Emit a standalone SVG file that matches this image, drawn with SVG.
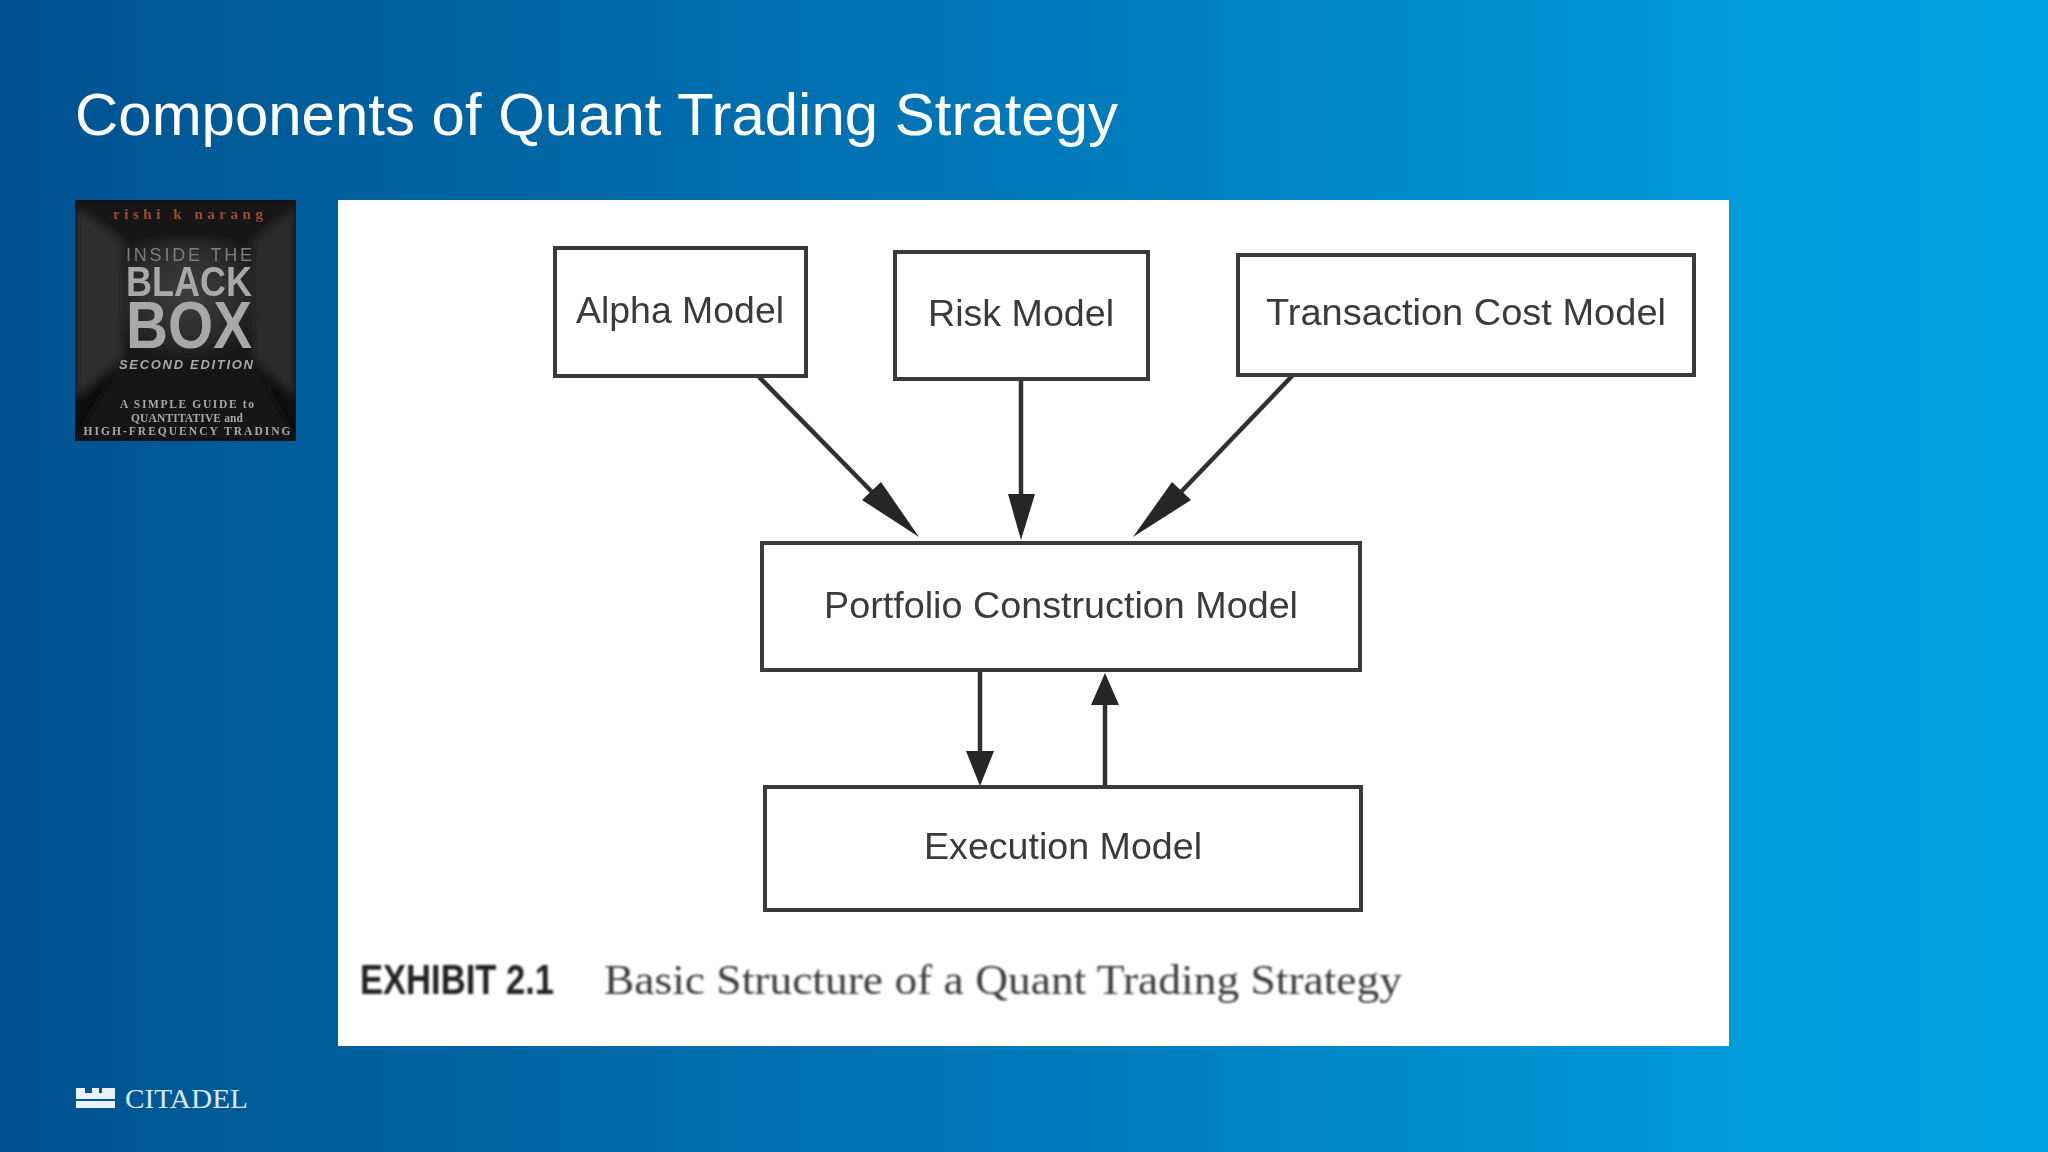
<svg xmlns="http://www.w3.org/2000/svg" width="2048" height="1152" viewBox="0 0 2048 1152">
<defs>
<linearGradient id="bg" x1="0" y1="0" x2="1" y2="0"><stop offset="0" stop-color="#00528f"/><stop offset="0.5" stop-color="#0078b9"/><stop offset="0.85" stop-color="#009bdb"/><stop offset="1" stop-color="#00a2e2"/></linearGradient>
<radialGradient id="wall" cx="0.5" cy="0.45" r="0.6"><stop offset="0" stop-color="#3e3e3e"/><stop offset="0.7" stop-color="#2a2a2a"/><stop offset="1" stop-color="#181818"/></radialGradient>
<clipPath id="bk"><rect x="75" y="200" width="221" height="241"/></clipPath>
<filter id="b1" x="-5%" y="-20%" width="110%" height="140%"><feGaussianBlur stdDeviation="1"/></filter>
<filter id="b2" x="-5%" y="-20%" width="110%" height="140%"><feGaussianBlur stdDeviation="0.7"/></filter>
<filter id="b3" x="-20%" y="-20%" width="140%" height="140%"><feGaussianBlur stdDeviation="4"/></filter>
<style>
.sans{font-family:"Liberation Sans",Arial,sans-serif}
.serif{font-family:"Liberation Serif","Times New Roman",serif}
.box{fill:#fff;stroke:#3a3a3a;stroke-width:4}
.lbl{font-size:37px;fill:#3a3a3a;text-anchor:middle;font-family:"Liberation Sans",Arial,sans-serif}
.ln{stroke:#303030;stroke-width:4.5;fill:none}
.hd{fill:#262626}
.cv{font-family:"Liberation Serif",serif;font-weight:bold;fill:#a8a8a8;text-anchor:middle}
.cb{font-family:"Liberation Sans",sans-serif;font-weight:bold;fill:#a8a8a8;text-anchor:middle}
.lg{fill:#e8f2f8}
</style>
</defs>
<rect width="2048" height="1152" fill="url(#bg)"/>
<text class="sans" x="75" y="135" font-size="60" fill="#fff" textLength="1043" lengthAdjust="spacingAndGlyphs">Components of Quant Trading Strategy</text>
<g id="book-cover">
<rect x="75" y="200" width="221" height="241" fill="#0e0e0e"/>
<g clip-path="url(#bk)"><g filter="url(#b3)">
<polygon points="75,200 296,200 253,240 122,240" fill="#161616"/>
<polygon points="75,205 122,240 122,360 75,400" fill="#2e2e2e"/>
<polygon points="296,205 253,240 253,360 296,400" fill="#292929"/>
<polygon points="75,441 296,441 253,360 122,360" fill="#141414"/>
<rect x="122" y="240" width="131" height="118" fill="url(#wall)"/>
</g></g>
<g filter="url(#b2)">
<text x="188" y="219" font-size="15" class="serif" font-weight="bold" fill="#a04a3a" text-anchor="middle" textLength="150">rishi k narang</text>
<text class="sans" x="189" y="261" font-size="18" fill="#7e7e7e" text-anchor="middle" textLength="126">INSIDE THE</text>
<text class="cb" x="189" y="296" font-size="43" textLength="126" lengthAdjust="spacingAndGlyphs">BLACK</text>
<text class="cb" x="189" y="348" font-size="66" textLength="126" lengthAdjust="spacingAndGlyphs">BOX</text>
<text class="cb" x="186" y="369" font-size="13" font-style="italic" fill="#8e8e8e" textLength="134">SECOND EDITION</text>
<text class="cv" x="187" y="408" font-size="11.5" textLength="134">A SIMPLE GUIDE to</text>
<text class="cv" x="187" y="422" font-size="11.5" textLength="112">QUANTITATIVE and</text>
<text class="cv" x="187" y="435" font-size="11.5" textLength="207">HIGH-FREQUENCY TRADING</text>
</g>
</g>
<rect id="panel" x="338" y="200" width="1391" height="846" fill="#fff"/>
<g id="connectors">
<line class="ln" x1="759" y1="377" x2="873" y2="493"/>
<polygon class="hd" points="919,537 881,482 862,500"/>
<line class="ln" x1="1021" y1="379" x2="1021" y2="497"/>
<polygon class="hd" points="1021,540 1008,494 1035,494"/>
<line class="ln" x1="1293" y1="375" x2="1180" y2="493"/>
<polygon class="hd" points="1133,537 1172,482 1191,500"/>
<line class="ln" x1="980" y1="670" x2="980" y2="753"/>
<polygon class="hd" points="980,786 966,751 994,751"/>
<line class="ln" x1="1105" y1="786" x2="1105" y2="703"/>
<polygon class="hd" points="1105,673 1091,705 1119,705"/>
</g>
<g id="alpha-model"><rect class="box" x="555" y="248" width="251" height="128"/><text class="lbl" x="680" y="323" filter="url(#b2)" textLength="208" lengthAdjust="spacingAndGlyphs">Alpha Model</text></g>
<g id="risk-model"><rect class="box" x="895" y="252" width="253" height="127"/><text class="lbl" x="1021" y="326" filter="url(#b2)" textLength="186" lengthAdjust="spacingAndGlyphs">Risk Model</text></g>
<g id="transaction-cost-model"><rect class="box" x="1238" y="255" width="456" height="120"/><text class="lbl" x="1466" y="325" filter="url(#b2)" textLength="400" lengthAdjust="spacingAndGlyphs">Transaction Cost Model</text></g>
<g id="portfolio-construction-model"><rect class="box" x="762" y="543" width="598" height="127"/><text class="lbl" x="1061" y="618" filter="url(#b2)" textLength="474" lengthAdjust="spacingAndGlyphs">Portfolio Construction Model</text></g>
<g id="execution-model"><rect class="box" x="765" y="787" width="596" height="123"/><text class="lbl" x="1063" y="859" filter="url(#b2)" textLength="278" lengthAdjust="spacingAndGlyphs">Execution Model</text></g>
<text class="sans" x="360" y="994" font-size="42" font-weight="bold" fill="#222" filter="url(#b1)" textLength="194" lengthAdjust="spacingAndGlyphs">EXHIBIT 2.1</text>
<text class="serif" x="604" y="994" font-size="43" fill="#3c3c3c" filter="url(#b1)" textLength="798" lengthAdjust="spacingAndGlyphs">Basic Structure of a Quant Trading Strategy</text>
<g id="citadel-logo">
<rect class="lg" x="76" y="1088" width="9" height="5"/><rect class="lg" x="92" y="1088" width="7" height="5"/><rect class="lg" x="102" y="1088" width="13" height="5"/>
<rect class="lg" x="76" y="1093" width="39" height="6"/><rect class="lg" x="76" y="1101" width="39" height="7"/>
<text class="serif" x="125" y="1108" font-size="28" fill="#d8e9f4" textLength="123" lengthAdjust="spacingAndGlyphs">CITADEL</text>
</g>
</svg>
